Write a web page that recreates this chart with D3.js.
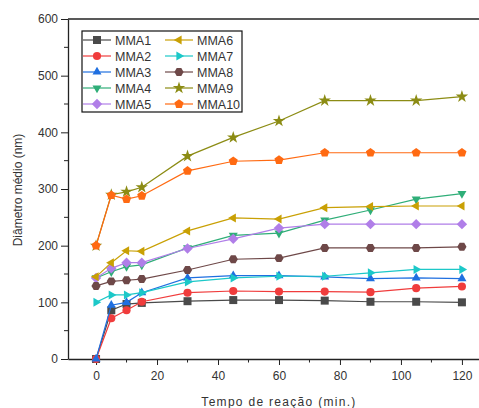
<!DOCTYPE html>
<html>
<head>
<meta charset="utf-8">
<script src="https://cdn.jsdelivr.net/npm/d3@7"></script>
<style>
  body { margin: 0; background: #fff; }
  svg text { font-family: "Liberation Sans", Arial, sans-serif; }
</style>
</head>
<body>
<div id="drawing_region"></div>
<script>
// reaction time (min.)
const times = [0, 5, 10, 15, 30, 45, 60, 75, 90, 105, 120];

// mean diameter (nm) per sample
const mma1  = [0, 86, 97, 99, 102, 104, 104, 103, 101, 101, 100];
const mma2  = [0, 72, 86, 101, 117, 120, 119, 119, 118, 125, 128];
const mma3  = [0, 95, 100, 117, 143, 147, 147, 145, 142, 143, 142];
const mma4  = [143, 154, 163, 166, 196, 218, 222, 245, 263, 282, 292];
const mma5  = [143, 160, 170, 170, 195, 212, 231, 238, 238, 238, 238];
const mma6  = [145, 170, 191, 190, 226, 249, 247, 267, 269, 270, 270];
const mma7  = [100, 113, 113, 117, 136, 143, 146, 146, 152, 158, 158];
const mma8  = [129, 137, 139, 141, 157, 176, 178, 196, 196, 196, 198];
const mma9  = [200, 290, 295, 303, 358, 391, 420, 456, 456, 456, 463];
const mma10 = [200, 289, 282, 288, 332, 349, 351, 364, 364, 364, 364];

const names = ['MMA1', 'MMA2', 'MMA3', 'MMA4', 'MMA5', 'MMA6', 'MMA7', 'MMA8', 'MMA9', 'MMA10'];
const values = [mma1, mma2, mma3, mma4, mma5, mma6, mma7, mma8, mma9, mma10];
const colors = ['#4a4a4a', '#f03c3c', '#1f6fe0', '#2fae78', '#b07ee8',
                '#c9a004', '#1cc8c8', '#6e4848', '#8c8c14', '#ff6a12'];
const shapes = ['square', 'circle', 'up', 'down', 'diamond', 'left', 'right', 'hexagon', 'star', 'pentagon'];

const xTicks = [0, 20, 40, 60, 80, 100, 120];
const yTicks = [0, 100, 200, 300, 400, 500, 600];

const width = 479, height = 408;

const svg = d3.select('#drawing_region')
    .append('svg')
    .attr('width', width)
    .attr('height', height);

const xscale = d3.scaleLinear().domain([-9.2, 125.6]).range([68, 479]);
const yscale = d3.scaleLinear().domain([0, 600]).range([359, 19]);

// polygon helper for the marker shapes
function polygon(n, r, rot) {
    const pts = [];
    for (let i = 0; i < n; i++) {
        const a = rot + i * 2 * Math.PI / n;
        pts.push([r * Math.cos(a), r * Math.sin(a)]);
    }
    return 'M' + pts.map(p => p[0].toFixed(2) + ',' + p[1].toFixed(2)).join('L') + 'Z';
}

function markerPath(shape) {
    switch (shape) {
        case 'square':   return 'M-4,-4L4,-4L4,4L-4,4Z';
        case 'circle':   return d3.symbol(d3.symbolCircle, 52)();
        case 'up':       return polygon(3, 5.2, -Math.PI / 2);
        case 'down':     return polygon(3, 5.2, Math.PI / 2);
        case 'left':     return polygon(3, 5.2, Math.PI);
        case 'right':    return polygon(3, 5.2, 0);
        case 'diamond':  return polygon(4, 5.2, 0);
        case 'hexagon':  return polygon(6, 4.6, 0);
        case 'pentagon': return polygon(5, 4.8, -Math.PI / 2);
        case 'star':     return d3.symbol(d3.symbolStar, 48)();
    }
}

// frame: top line, left and bottom axes
svg.append('line')
    .attr('x1', 68).attr('x2', 479)
    .attr('y1', yscale(600)).attr('y2', yscale(600))
    .attr('stroke', '#222').attr('stroke-width', 1.3);

const xAxis = svg.append('g')
    .attr('transform', `translate(0, ${yscale(0)})`)
    .call(d3.axisBottom(xscale).tickValues(xTicks).tickSize(6).tickPadding(4).tickSizeOuter(0));
xAxis.append('g').selectAll('line')
    .data(d3.range(10, 121, 20))
    .join('line')
    .attr('x1', d => xscale(d)).attr('x2', d => xscale(d))
    .attr('y1', 0).attr('y2', 3.5)
    .attr('stroke', '#222');

const yAxis = svg.append('g')
    .attr('transform', `translate(68, 0)`)
    .call(d3.axisLeft(yscale).tickValues(yTicks).tickSize(7).tickPadding(3).tickSizeOuter(0));
yAxis.append('g').selectAll('line')
    .data(d3.range(50, 600, 100))
    .join('line')
    .attr('y1', d => yscale(d)).attr('y2', d => yscale(d))
    .attr('x1', 0).attr('x2', -4)
    .attr('stroke', '#222');

[xAxis, yAxis].forEach(ax => {
    ax.select('.domain').attr('stroke', '#222').attr('stroke-width', 1.3);
    ax.selectAll('.tick line').attr('stroke', '#222');
    ax.selectAll('.tick text')
        .attr('fill', '#333')
        .style('font-size', '12px')
        .style('font-family', '"Liberation Sans", Arial, sans-serif');
});
xAxis.selectAll('.tick text').attr('dy', '0.95em');

// axis titles
svg.append('text')
    .attr('x', 279).attr('y', 406)
    .attr('text-anchor', 'middle')
    .attr('fill', '#333')
    .style('font-size', '12px')
    .style('letter-spacing', '1.3px')
    .text('Tempo de reação (min.)');

svg.append('text')
    .attr('transform', 'translate(22, 190) rotate(-90)')
    .attr('text-anchor', 'middle')
    .attr('fill', '#333')
    .style('font-size', '12px')
    .text('Diâmetro médio (nm)');

// series
const line = d3.line()
    .x((d, i) => xscale(times[i]))
    .y(d => yscale(d));

const series = svg.append('g');
values.forEach((vals, k) => {
    const g = series.append('g');
    g.append('path')
        .attr('d', line(vals))
        .attr('fill', 'none')
        .attr('stroke', colors[k])
        .attr('stroke-width', 1.2);
    g.selectAll('path.mk')
        .data(vals)
        .join('path')
        .attr('class', 'mk')
        .attr('transform', (d, i) => `translate(${xscale(times[i])}, ${yscale(d)})`)
        .attr('d', markerPath(shapes[k]))
        .attr('fill', colors[k]);
});

// legend
const legend = svg.append('g');
legend.append('rect')
    .attr('x', 82).attr('y', 31)
    .attr('width', 160).attr('height', 81)
    .attr('fill', '#fff')
    .attr('stroke', '#111')
    .attr('stroke-width', 1.2);

names.forEach((name, k) => {
    const col = Math.floor(k / 5), row = k % 5;
    const x0 = col === 0 ? 83 : 165;
    const y0 = 40 + row * 16;
    const item = legend.append('g').attr('transform', `translate(${x0}, ${y0})`);
    item.append('line')
        .attr('x1', 0).attr('x2', 28)
        .attr('stroke', colors[k]).attr('stroke-width', 1.2);
    item.append('path')
        .attr('transform', 'translate(14, 0)')
        .attr('d', markerPath(shapes[k]))
        .attr('fill', colors[k]);
    item.append('text')
        .attr('x', 32).attr('y', 4.5)
        .attr('fill', '#333')
        .style('font-size', '12.5px')
        .text(name);
});
</script>
</body>
</html>
